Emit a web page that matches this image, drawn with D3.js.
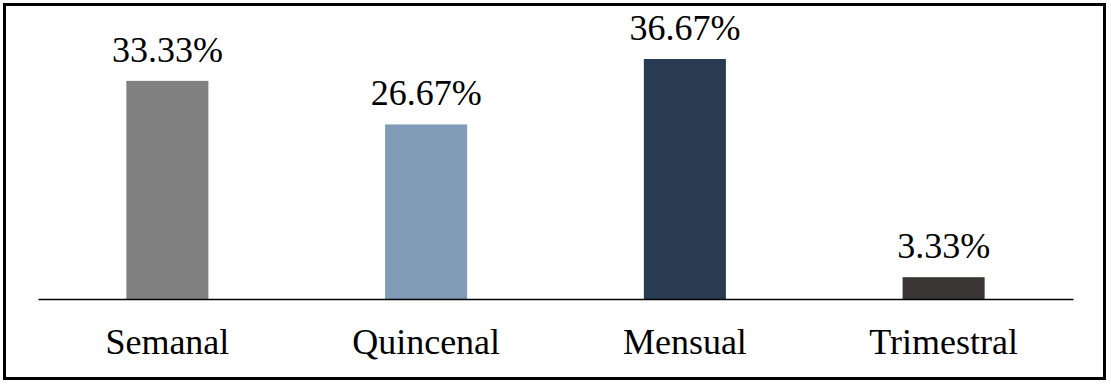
<!DOCTYPE html>
<html>
<head>
<meta charset="utf-8">
<script src="https://d3js.org/d3.v7.min.js"></script>
<style>
  body { margin: 0; background: #fff; }
</style>
</head>
<body>
<svg class="chart"></svg>
<script>
var categories = ["Semanal", "Quincenal", "Mensual", "Trimestral"];
var values = [33.33, 26.67, 36.67, 3.33];
var valueLabels = ["33.33%", "26.67%", "36.67%", "3.33%"];
var barColors = ["#808080", "#7f9bb6", "#293b50", "#3a3636"];

var svgWidth = 1111, svgHeight = 386;
var baseY = 299;
var serif = "'Liberation Serif', 'Times New Roman', serif";

var svg = d3.select(".chart")
    .attr("width", svgWidth)
    .attr("height", svgHeight);

// outer frame
svg.append("rect")
    .attr("x", 4.5).attr("y", 4.5)
    .attr("width", 1100).attr("height", 374)
    .attr("fill", "none")
    .attr("stroke", "#000")
    .attr("stroke-width", 3);

var x = d3.scaleBand()
    .domain(categories)
    .range([38, 1073])
    .paddingInner(0.683)
    .paddingOuter(0.683 / 2);

var y = d3.scaleLinear()
    .domain([0, 36.67])
    .range([baseY, 59]);

var data = categories.map(function(c, i) {
    return { cat: c, val: values[i], label: valueLabels[i], color: barColors[i] };
});

svg.selectAll(".bar")
    .data(data).enter().append("rect")
    .attr("class", "bar")
    .attr("x", d => x(d.cat))
    .attr("y", d => y(d.val))
    .attr("width", x.bandwidth())
    .attr("height", d => baseY - y(d.val))
    .attr("fill", d => d.color);

// baseline axis
var xAxis = d3.axisBottom(x).tickSize(0).tickPadding(0);
var gx = svg.append("g")
    .attr("transform", "translate(0," + baseY + ")")
    .call(xAxis);
gx.select(".domain").attr("stroke", "#000").attr("stroke-width", 1.5);
gx.selectAll(".tick text")
    .attr("y", 55)
    .attr("dy", 0)
    .style("font-family", serif)
    .style("font-size", "36px")
    .attr("fill", "#000");

svg.selectAll(".vlabel")
    .data(data).enter().append("text")
    .attr("class", "vlabel")
    .attr("x", d => x(d.cat) + x.bandwidth() / 2)
    .attr("y", d => y(d.val) - 19)
    .attr("text-anchor", "middle")
    .style("font-family", serif)
    .style("font-size", "36px")
    .attr("fill", "#000")
    .text(d => d.label);
</script>
</body>
</html>
